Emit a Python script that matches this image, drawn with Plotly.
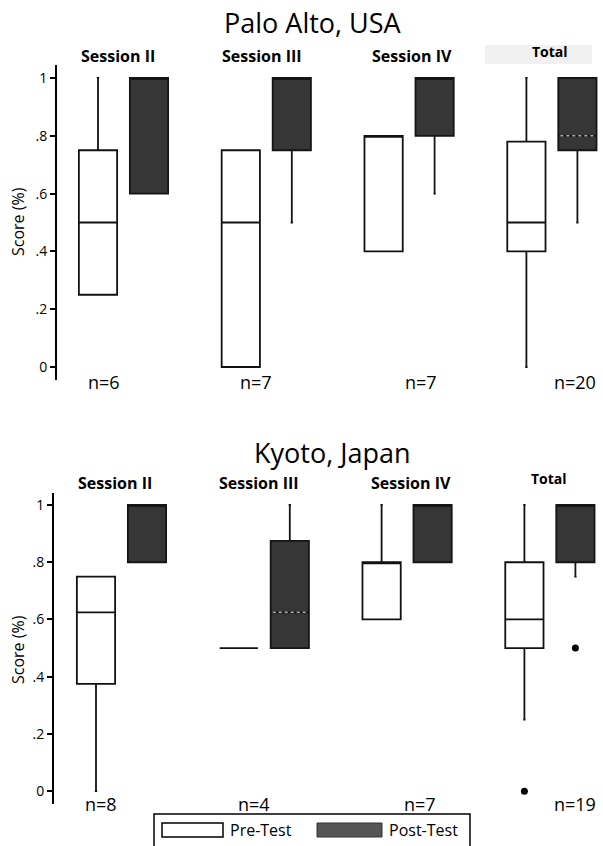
import plotly.graph_objects as go

# ---------------- data ----------------
sessions = ["Session II", "Session III", "Session IV", "Total"]

pa_pre_q1 = [0.25, 0.00, 0.40, 0.40]
pa_pre_med = [0.50, 0.50, 0.80, 0.50]
pa_pre_q3 = [0.75, 0.75, 0.80, 0.78]
pa_pre_lo = [0.25, 0.00, 0.40, 0.00]
pa_pre_hi = [1.00, 0.75, 0.80, 1.00]
pa_post_q1 = [0.60, 0.75, 0.80, 0.75]
pa_post_med = [1.00, 1.00, 1.00, 0.80]
pa_post_q3 = [1.00, 1.00, 1.00, 1.00]
pa_post_lo = [0.60, 0.50, 0.60, 0.50]
pa_post_hi = [1.00, 1.00, 1.00, 1.00]
pa_n = [6, 7, 7, 20]

ky_pre_q1 = [0.375, 0.50, 0.60, 0.50]
ky_pre_med = [0.625, 0.50, 0.80, 0.60]
ky_pre_q3 = [0.75, 0.50, 0.80, 0.80]
ky_pre_lo = [0.00, 0.50, 0.60, 0.25]
ky_pre_hi = [0.75, 0.50, 1.00, 1.00]
ky_post_q1 = [0.80, 0.50, 0.80, 0.80]
ky_post_med = [1.00, 0.625, 1.00, 1.00]
ky_post_q3 = [1.00, 0.875, 1.00, 1.00]
ky_post_lo = [0.80, 0.50, 0.80, 0.75]
ky_post_hi = [1.00, 1.00, 1.00, 1.00]
ky_n = [8, 4, 7, 19]
ky_outlier_session = ["Total", "Total"]
ky_outlier_group = ["Pre", "Post"]
ky_outlier_val = [0.0, 0.5]

tick_vals = [0, 0.2, 0.4, 0.6, 0.8, 1.0]
tick_text = ["0", ".2", ".4", ".6", ".8", "1"]

# ---------------- layout helpers ----------------
W, H = 603, 846
SPACING = 2.8
BOXW = 0.75
FONT = "Open Sans"
PRE_FILL, PRE_LINE = "white", "#111111"
POST_FILL, POST_LINE = "#363636", "#151515"


def px_x(p):
    return p / W


def px_y(p):
    return 1 - p / H


def pos(i, grp):
    return i * SPACING + (0 if grp == "Pre" else 1)


fig = go.Figure()


def add_panel(xa, ya, pre, post):
    for grp, st, fill, line in (("Pre", pre, PRE_FILL, PRE_LINE),
                                ("Post", post, POST_FILL, POST_LINE)):
        q1, med, q3, lo, hi = st
        fig.add_trace(go.Box(
            x=[pos(i, grp) for i in range(len(sessions))],
            q1=q1, median=med, q3=q3, lowerfence=lo, upperfence=hi,
            width=BOXW, whiskerwidth=0.06, boxpoints=False,
            fillcolor=fill, line=dict(color=line, width=1.8),
            xaxis=xa, yaxis=ya, showlegend=False, hoverinfo="skip"))
    # light median line inside dark boxes
    q1, med, q3, lo, hi = post
    for i in range(len(sessions)):
        if q1[i] < med[i] < q3[i]:
            c = pos(i, "Post")
            fig.add_trace(go.Scatter(
                x=[c - BOXW / 2 + 0.04, c + BOXW / 2 - 0.04], y=[med[i], med[i]],
                mode="lines", line=dict(color="#aaaaaa", width=1.5, dash="dot"),
                xaxis=xa, yaxis=ya, showlegend=False, hoverinfo="skip"))


add_panel("x", "y",
          (pa_pre_q1, pa_pre_med, pa_pre_q3, pa_pre_lo, pa_pre_hi),
          (pa_post_q1, pa_post_med, pa_post_q3, pa_post_lo, pa_post_hi))
add_panel("x2", "y2",
          (ky_pre_q1, ky_pre_med, ky_pre_q3, ky_pre_lo, ky_pre_hi),
          (ky_post_q1, ky_post_med, ky_post_q3, ky_post_lo, ky_post_hi))

fig.add_trace(go.Scatter(
    x=[pos(sessions.index(s), g) for s, g in zip(ky_outlier_session, ky_outlier_group)],
    y=ky_outlier_val, mode="markers",
    marker=dict(color="black", size=7), xaxis="x2", yaxis="y2",
    showlegend=False, hoverinfo="skip"))

# axes
top_dom_x = [px_x(57), px_x(600)]
top_dom_y = [px_y(380), px_y(65)]
bot_dom_x = [px_x(54), px_x(598)]
bot_dom_y = [px_y(804), px_y(493)]

xcommon = dict(showgrid=False, zeroline=False, showline=False, showticklabels=False,
               ticks="", fixedrange=True)
ycommon = dict(showgrid=False, zeroline=False, showline=True, linecolor="black",
               linewidth=2, ticks="outside", ticklen=5, tickwidth=1.5, tickcolor="black",
               tickvals=tick_vals, ticktext=tick_text,
               tickfont=dict(family=FONT, size=14, color="black"))

fig.update_layout(
    width=W, height=H,
    margin=dict(l=0, r=0, t=0, b=0),
    paper_bgcolor="white", plot_bgcolor="white",
    xaxis=dict(domain=top_dom_x, range=[-(98 - 57) / 51, (600 - 98) / 51], **xcommon),
    yaxis=dict(domain=top_dom_y, range=[-0.045, 1.045], anchor="x", **ycommon),
    xaxis2=dict(domain=bot_dom_x, range=[-(96 - 54) / 51, (598 - 96) / 51], anchor="y2", **xcommon),
    yaxis2=dict(domain=bot_dom_y, range=[-0.045, 1.042], anchor="x2", **ycommon),
    showlegend=False,
)


def txt(text, x, y, size, xref="paper", bold=False, xanchor="center", angle=0):
    return dict(text=("<b>%s</b>" % text) if bold else text,
                x=x, y=px_y(y), xref=xref, yref="paper",
                xanchor=xanchor, yanchor="middle", textangle=angle,
                showarrow=False, font=dict(family=FONT, size=size, color="black"))


ann = []
ann.append(txt("Palo Alto, USA", px_x(313), 23, 27))
ann.append(txt("Kyoto, Japan", px_x(332), 452, 27))
for yc in (222, 650):
    ann.append(txt("Score (%)", px_x(18), yc, 16, angle=-90))

# session labels and n= labels (pixel x positions from the reference)
top_lab_px = [118, 262, 412, 549.5]
bot_lab_px = [115, 259, 411, 549]
top_n_px = [104, 256, 421, 575]
bot_n_px = [101, 254, 420, 574.5]
for i, s in enumerate(sessions):
    size = 14 if s == "Total" else 16
    ann.append(txt(s, px_x(top_lab_px[i]), 56 if s != "Total" else 51, size, bold=True))
    ann.append(txt(s, px_x(bot_lab_px[i]), 483 if s != "Total" else 478, size, bold=True))
    ann.append(txt("n=%d" % pa_n[i], px_x(top_n_px[i]), 382, 18))
    ann.append(txt("n=%d" % ky_n[i], px_x(bot_n_px[i]), 804, 18))

# legend text
ann.append(txt("Pre-Test", px_x(228), 830, 16, xanchor="left"))
ann.append(txt("Post-Test", px_x(387), 830, 16, xanchor="left"))


def rect(x0, x1, y0, y1, **kw):
    return dict(type="rect", xref="paper", yref="paper",
                x0=px_x(x0), x1=px_x(x1), y0=px_y(y1), y1=px_y(y0), **kw)


shapes = [
    rect(485, 592, 45, 64, fillcolor="#f1f1f1", line=dict(width=0), layer="below"),
    rect(154, 470, 814, 860, fillcolor="white", line=dict(color="black", width=1.5)),
    rect(162, 223, 823, 837, fillcolor="white", line=dict(color="black", width=1.5)),
    rect(317, 382, 823, 837, fillcolor="#555555", line=dict(color="#333", width=1)),
]
fig.update_layout(annotations=ann, shapes=shapes)

fig.write_html("out.html",
               config={"displayModeBar": False},
               post_script="document.body.style.margin='0px';"
                           "document.body.style.overflow='hidden';")
